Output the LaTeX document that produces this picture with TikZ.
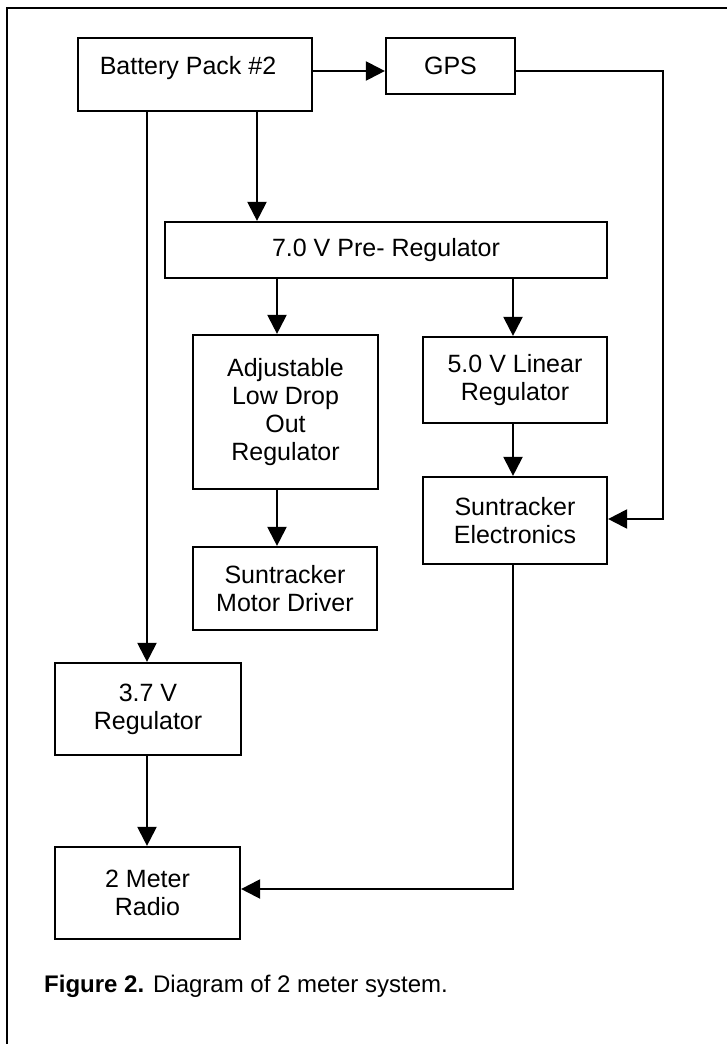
\documentclass[tikz,border=0pt]{standalone}
\usepackage{fontspec}
\setmainfont{Liberation Sans}
\usetikzlibrary{arrows.meta}
\begin{document}
\begin{tikzpicture}[x=1pt,y=-1pt,
  blk/.style={draw, line width=2.2pt, inner sep=0pt, align=center,
    font=\fontsize{25}{28}\selectfont},
  txt/.style={inner sep=0pt, font=\fontsize{25}{28}\selectfont},
  arr/.style={line width=2.2pt, -{Triangle[length=19pt,width=19pt]}},
  frame/.style={line width=2.4pt}]
\useasboundingbox (0,0) rectangle (726,1044);
\fill[white] (0,0) rectangle (726,1044);
% outer frame (left and top edges)
\draw[frame] (7,1050) -- (7,8) -- (730,8);
% blocks
\node[blk, minimum width=234pt, minimum height=73pt] (bat) at (195,74.5) {};
\node[txt, anchor=base] (battxt) at (188,74) {Battery Pack \#2};
\node[blk, minimum width=129pt, minimum height=56pt] (gps) at (450.5,66) {GPS};
\node[blk, minimum width=442pt, minimum height=56pt] (pre) at (386,250) {7.0 V Pre- Regulator};
\node[blk, minimum width=185pt, minimum height=154pt] (adj) at (285.5,412) {Adjustable\\Low Drop\\Out\\Regulator};
\node[blk, minimum width=184pt, minimum height=86pt] (lin) at (515,380) {5.0 V Linear\\Regulator};
\node[blk, minimum width=184pt, minimum height=87pt] (ele) at (515,520.5) {Suntracker\\Electronics};
\node[blk, minimum width=184pt, minimum height=83pt] (mot) at (285,588.5) {Suntracker\\Motor Driver};
\node[blk, minimum width=186pt, minimum height=92pt] (r37) at (148,709) {3.7 V\\Regulator};
\node[blk, minimum width=185pt, minimum height=92pt] (rad) at (147.5,893) {2 Meter\\Radio};
% helper coordinates
\coordinate (y71) at (0,71);
\coordinate (x147) at (147,0);
\coordinate (x257) at (257,0);
\coordinate (x277) at (277,0);
\coordinate (x513) at (513,0);
\coordinate (gpsc) at (663,519);
\coordinate (eler) at (513,889);
% connectors
\draw[arr] (bat.east |- y71) -- (gps.west |- y71);
\draw[arr] (bat.south -| x257) -- (pre.north -| x257);
\draw[arr] (bat.south -| x147) -- (r37.north -| x147);
\draw[arr] (pre.south -| x277) -- (adj.north -| x277);
\draw[arr] (pre.south -| x513) -- (lin.north -| x513);
\draw[arr] (lin.south -| x513) -- (ele.north -| x513);
\draw[arr] (adj.south -| x277) -- (mot.north -| x277);
\draw[arr] (r37.south -| x147) -- (rad.north -| x147);
\draw[arr] (gps.east |- y71) -| (gpsc) -- (ele.east |- gpsc);
\draw[arr] (ele.south -| eler) -- (eler) -- (rad.east |- eler);
% caption
\node[inner sep=0pt, anchor=base west, font=\fontsize{24}{28}\selectfont] (cap) at (44,992) {\textbf{Figure 2.} Diagram of 2 meter system.};
\end{tikzpicture}
\end{document}
